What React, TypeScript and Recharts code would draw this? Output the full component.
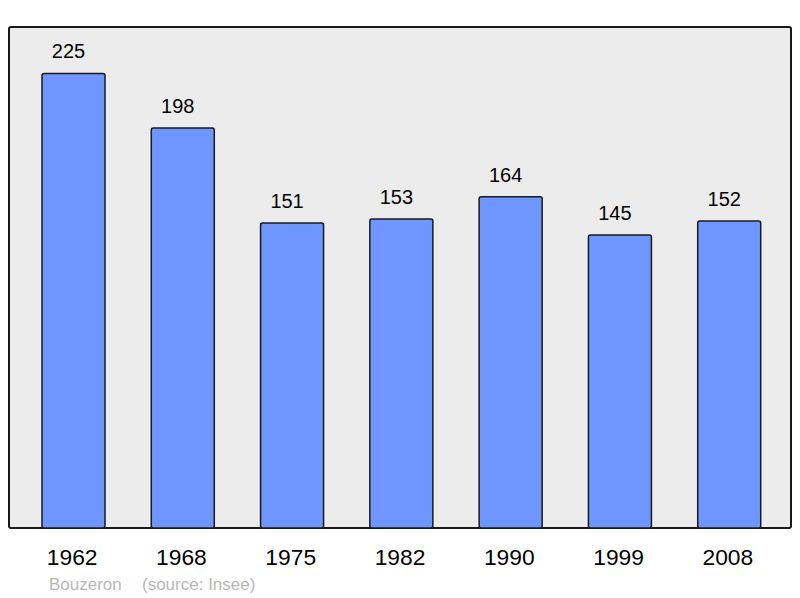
import React from 'react';
import { BarChart, Bar, XAxis, YAxis, LabelList } from 'recharts';

const years = ['1962', '1968', '1975', '1982', '1990', '1999', '2008'];
const population = [225, 198, 151, 153, 164, 145, 152];
const commune = 'Bouzeron';
const source = '(source: Insee)';

const data = years.map((year, i) => ({ year, value: population[i] }));

const FONT = '"Liberation Sans", Arial, sans-serif';

function YearTick(props: any) {
  const { x, payload } = props;
  return (
    <text x={x - 1.5} y={565} textAnchor="middle" fontSize={22.8} fontFamily={FONT} fill="#000">
      {payload.value}
    </text>
  );
}

function ValueLabel(props: any) {
  const { x, y, width, value } = props;
  return (
    <text x={x + width / 2 - 5} y={y - 15} textAnchor="middle" fontSize={20} fontFamily={FONT} fill="#000">
      {value}
    </text>
  );
}

export default function App() {
  return (
    <div style={{ position: 'absolute', left: 0, top: 0, width: 800, height: 598, background: '#fff' }}>
      {/* panel */}
      <div
        style={{
          position: 'absolute',
          left: 8,
          top: 26,
          width: 784,
          height: 503,
          boxSizing: 'border-box',
          border: '2px solid #1a1a1a',
          borderRadius: 3,
          background: '#ececec',
        }}
      />
      <div style={{ position: 'absolute', left: 0, top: 0 }}>
        <BarChart width={800} height={598} data={data} margin={{ top: 27, right: 9, bottom: 30, left: 9 }}>
          <YAxis hide domain={[0, 248]} />
          <XAxis
            dataKey="year"
            axisLine={false}
            tickLine={false}
            height={40}
            padding={{ left: 10, right: 7 }}
            tick={<YearTick />}
            interval={0}
          />
          <Bar dataKey="value" fill="#6f96ff" stroke="#1a1a1a" strokeWidth={1.5} barSize={63} radius={2} isAnimationActive={false}>
            <LabelList dataKey="value" content={<ValueLabel />} />
          </Bar>
        </BarChart>
      </div>
      <svg style={{ position: 'absolute', left: 0, top: 0 }} width={800} height={598}>
        <text x={49} y={590} fontSize={17} fontFamily={FONT} fill="#b8b8b8">{commune}</text>
        <text x={142} y={590} fontSize={17} fontFamily={FONT} fill="#b8b8b8">{source}</text>
      </svg>
    </div>
  );
}
